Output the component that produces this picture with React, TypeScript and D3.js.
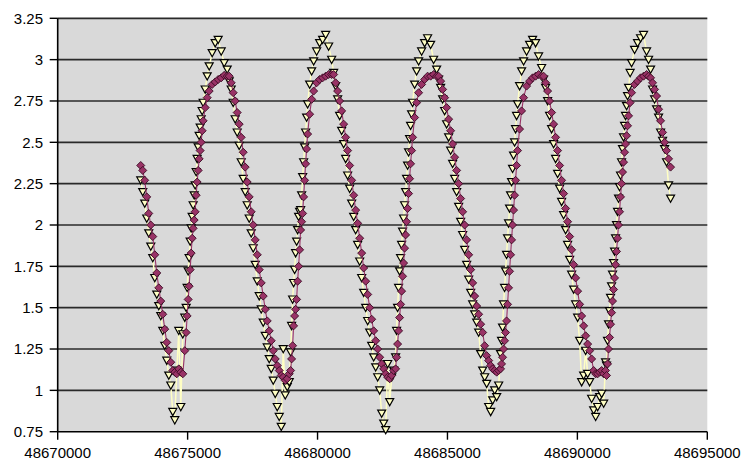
import React from 'react';
import * as d3 from 'd3';

// Observation times (shared by both series)
const times: number[] = [
  // partial descent before the first minimum
  48673196, 48673273, 48673350, 48673427, 48673504, 48673582, 48673659, 48673736, 48673813, 48673890, 48673967, 48674044,
  48674121, 48674198, 48674275, 48674352, 48674429, 48674506, 48674583, 48674660, 48674737, 48674814, 48674891,
  // cycle 0
  48674944, 48674982, 48675021, 48675059, 48675098, 48675136, 48675175, 48675213, 48675252, 48675290, 48675329, 48675367,
  48675406, 48675444, 48675483, 48675521, 48675560, 48675598, 48675676, 48675753, 48675830, 48675945, 48676061, 48676176,
  48676292, 48676407, 48676523,
  48676600, 48676677, 48676754, 48676831, 48676908, 48676985, 48677062, 48677139, 48677216, 48677293, 48677370, 48677447,
  48677524, 48677602, 48677679, 48677756, 48677833, 48677910, 48677987, 48678064, 48678141, 48678218, 48678295, 48678372,
  48678449, 48678526, 48678603, 48678680, 48678757, 48678834, 48678911,
  // cycle 1
  48678964, 48679002, 48679041, 48679079, 48679118, 48679156, 48679195, 48679233, 48679272, 48679310, 48679349, 48679387,
  48679426, 48679464, 48679503, 48679541, 48679580, 48679618, 48679696, 48679773, 48679850, 48679965, 48680081, 48680196,
  48680312, 48680427, 48680543,
  48680620, 48680697, 48680774, 48680851, 48680928, 48681005, 48681082, 48681159, 48681236, 48681313, 48681390, 48681467,
  48681544, 48681622, 48681699, 48681776, 48681853, 48681930, 48682007, 48682084, 48682161, 48682238, 48682315, 48682392,
  48682469, 48682546, 48682623, 48682700, 48682777, 48682854, 48682931,
  // cycle 2
  48683004, 48683042, 48683081, 48683119, 48683158, 48683196, 48683235, 48683273, 48683312, 48683350, 48683389, 48683427,
  48683466, 48683504, 48683543, 48683581, 48683620, 48683658, 48683736, 48683813, 48683890, 48684005, 48684121, 48684236,
  48684352, 48684467, 48684583,
  48684660, 48684737, 48684814, 48684891, 48684968, 48685045, 48685122, 48685199, 48685276, 48685353, 48685430, 48685507,
  48685584, 48685662, 48685739, 48685816, 48685893, 48685970, 48686047, 48686124, 48686201, 48686278, 48686355, 48686432,
  48686509, 48686586, 48686663, 48686740, 48686817, 48686894, 48686971,
  // cycle 3
  48687044, 48687082, 48687121, 48687159, 48687198, 48687236, 48687275, 48687313, 48687352, 48687390, 48687429, 48687467,
  48687506, 48687544, 48687583, 48687621, 48687660, 48687698, 48687776, 48687853, 48687930, 48688045, 48688161, 48688276,
  48688392, 48688507, 48688623,
  48688700, 48688777, 48688854, 48688931, 48689008, 48689085, 48689162, 48689239, 48689316, 48689393, 48689470, 48689547,
  48689624, 48689702, 48689779, 48689856, 48689933, 48690010, 48690087, 48690164, 48690241, 48690318, 48690395, 48690472,
  48690549, 48690626, 48690703, 48690780, 48690857, 48690934, 48691011,
  // cycle 4
  48691084, 48691122, 48691161, 48691199, 48691238, 48691276, 48691315, 48691353, 48691392, 48691430, 48691469, 48691507,
  48691546, 48691584, 48691623, 48691661, 48691700, 48691738, 48691777, 48691816, 48691854, 48691893, 48691931, 48691970,
  48692030, 48692085, 48692201, 48692316, 48692432, 48692547, 48692663,
  48692740, 48692817, 48692894, 48692971, 48693048, 48693125, 48693202, 48693279, 48693356, 48693433, 48693510, 48693587,
];

// Series drawn with purple diamonds
const purpleValues: number[] = [
  2.36, 2.33, 2.27, 2.17, 2.07, 2.00, 1.93, 1.82, 1.71, 1.62, 1.54, 1.46,
  1.37, 1.29, 1.24, 1.17, 1.12, 1.11, 1.10, 1.13, 1.11, 1.10, 1.24,
  // cycle 0
  1.35, 1.45, 1.55, 1.63, 1.73, 1.83, 1.92, 1.98, 2.03, 2.08, 2.18, 2.26,
  2.33, 2.40, 2.45, 2.50, 2.57, 2.63, 2.71, 2.77, 2.81, 2.85, 2.865, 2.88,
  2.89, 2.905, 2.90,
  2.90, 2.86, 2.80, 2.75, 2.68, 2.61, 2.53, 2.44, 2.35, 2.26, 2.17, 2.08,
  2.00, 1.91, 1.82, 1.73, 1.65, 1.57, 1.49, 1.42, 1.36, 1.30, 1.24, 1.19,
  1.15, 1.12, 1.09, 1.08, 1.06, 1.07, 1.10,
  // cycle 1
  1.12, 1.19, 1.27, 1.39, 1.45, 1.49, 1.55, 1.66, 1.75, 1.85, 1.97, 2.02,
  2.07, 2.17, 2.27, 2.37, 2.46, 2.55, 2.67, 2.76, 2.81, 2.86, 2.88, 2.89,
  2.90, 2.91, 2.91,
  2.91, 2.86, 2.81, 2.75, 2.69, 2.61, 2.53, 2.45, 2.36, 2.27, 2.18, 2.09,
  2.01, 1.92, 1.83, 1.74, 1.66, 1.58, 1.50, 1.43, 1.36, 1.30, 1.25, 1.20,
  1.16, 1.13, 1.10, 1.08, 1.07, 1.09, 1.12,
  // cycle 2
  1.13, 1.20, 1.28, 1.36, 1.44, 1.52, 1.60, 1.69, 1.77, 1.86, 1.94, 2.02,
  2.10, 2.19, 2.28, 2.37, 2.45, 2.53, 2.65, 2.74, 2.80, 2.85, 2.88, 2.90,
  2.90, 2.91, 2.90,
  2.90, 2.87, 2.82, 2.77, 2.71, 2.64, 2.57, 2.49, 2.41, 2.33, 2.25, 2.16,
  2.08, 2.00, 1.91, 1.82, 1.73, 1.65, 1.57, 1.51, 1.46, 1.40, 1.35, 1.27,
  1.21, 1.18, 1.15, 1.13, 1.12, 1.11, 1.12,
  // cycle 3
  1.13, 1.16, 1.20, 1.25, 1.30, 1.35, 1.42, 1.52, 1.62, 1.72, 1.82, 1.91,
  2.00, 2.09, 2.18, 2.27, 2.36, 2.45, 2.58, 2.69, 2.77, 2.84, 2.87, 2.89,
  2.90, 2.91, 2.90,
  2.90, 2.86, 2.81, 2.75, 2.68, 2.61, 2.53, 2.45, 2.36, 2.27, 2.19, 2.10,
  2.02, 1.93, 1.85, 1.76, 1.68, 1.60, 1.52, 1.45, 1.39, 1.33, 1.28, 1.24,
  1.19, 1.12, 1.10, 1.10, 1.11, 1.12, 1.10,
  // cycle 4
  1.12, 1.09, 1.16, 1.25, 1.32, 1.40, 1.47, 1.54, 1.61, 1.68, 1.76, 1.84,
  1.92, 2.00, 2.08, 2.17, 2.25, 2.32, 2.38, 2.44, 2.49, 2.54, 2.60, 2.66,
  2.74, 2.80, 2.85, 2.87, 2.89, 2.90, 2.91,
  2.90, 2.89, 2.86, 2.82, 2.78, 2.70, 2.63, 2.56, 2.50, 2.45, 2.40, 2.35,
];

// Series drawn with pale yellow down-triangles
const yellowValues: number[] = [
  2.27, 2.20, 2.13, 2.04, 1.95, 1.87, 1.80, 1.68, 1.58, 1.51, 1.45, 1.36,
  1.27, 1.18, 1.09, 1.03, 0.87, 0.82, 1.12, 1.36, 0.90, 1.34, 1.44,
  // cycle 0
  1.50, 1.62, 1.72, 1.80, 1.90, 1.98, 2.05, 2.12, 2.18, 2.24, 2.32, 2.40,
  2.47, 2.54, 2.59, 2.64, 2.69, 2.74, 2.82, 2.90, 2.96, 3.04, 3.10, 3.12,
  3.05, 2.98, 2.94,
  2.87, 2.82, 2.74, 2.64, 2.56, 2.48, 2.38, 2.28, 2.20, 2.12, 2.04, 1.95,
  1.86, 1.76, 1.66, 1.57, 1.49, 1.41, 1.33, 1.26, 1.19, 1.13, 1.06, 0.98,
  0.90, 0.84, 0.78, 1.25, 0.97, 1.02, 1.05,
  // cycle 1
  1.23, 1.39, 1.55, 1.65, 1.73, 1.83, 1.90, 1.97, 2.05, 2.08, 2.09, 2.18,
  2.29, 2.38, 2.47, 2.56, 2.65, 2.73, 2.85, 2.93, 2.99, 3.05, 3.10, 3.12,
  3.15, 3.08, 3.00,
  2.92, 2.84, 2.76, 2.66, 2.57, 2.49, 2.40, 2.30, 2.22, 2.13, 2.05, 1.97,
  1.88, 1.78, 1.68, 1.59, 1.50, 1.42, 1.35, 1.27, 1.20, 1.14, 1.08, 1.00,
  0.86, 0.80, 0.76, 1.16, 0.93, 1.08, 1.12,
  // cycle 2
  1.20, 1.36, 1.50, 1.62, 1.72, 1.80, 1.88, 1.96, 2.04, 2.12, 2.20, 2.28,
  2.36, 2.44, 2.52, 2.60, 2.67, 2.74, 2.85, 2.93, 2.99, 3.05, 3.10, 3.13,
  3.09, 3.00, 2.94,
  2.88, 2.83, 2.76, 2.69, 2.61, 2.53, 2.45, 2.37, 2.28, 2.20, 2.11, 2.02,
  1.94, 1.85, 1.76, 1.67, 1.59, 1.52, 1.46, 1.41, 1.35, 1.22, 1.12, 1.08,
  1.04, 0.90, 0.87, 0.94, 1.00, 0.96, 1.03,
  // cycle 3
  1.22, 1.30, 1.38, 1.52, 1.62, 1.72, 1.82, 1.92, 2.01, 2.10, 2.18, 2.26,
  2.34, 2.42, 2.50, 2.58, 2.66, 2.73, 2.84, 2.93, 2.99, 3.05, 3.09, 3.12,
  3.10, 3.02, 2.95,
  2.88, 2.83, 2.75, 2.66, 2.58, 2.49, 2.40, 2.31, 2.22, 2.14, 2.06, 1.97,
  1.88, 1.79, 1.70, 1.61, 1.52, 1.44, 1.30, 1.05, 1.09, 1.24, 1.10, 1.05,
  0.95, 0.88, 0.84, 0.90, 0.96, 0.98, 0.92,
  // cycle 4
  1.17, 1.15, 1.30, 1.40, 1.48, 1.56, 1.63, 1.70, 1.77, 1.84, 1.92, 2.00,
  2.08, 2.16, 2.23, 2.30, 2.38, 2.46, 2.53, 2.60, 2.66, 2.72, 2.78, 2.83,
  2.92, 2.98, 3.06, 3.10, 3.13, 3.15, 3.05,
  3.00, 2.94, 2.82, 2.76, 2.70, 2.65, 2.56, 2.51, 2.46, 2.38, 2.24, 2.16,
];

const xTickValues = [48670000, 48675000, 48680000, 48685000, 48690000, 48695000];
const yTickValues = [0.75, 1, 1.25, 1.5, 1.75, 2, 2.25, 2.5, 2.75, 3, 3.25];

export default function App() {
  const W = 745;
  const H = 463;
  const left = 57.7;
  const right = 707.3;
  const top = 18.3;
  const bottom = 431.7;

  const x = d3.scaleLinear().domain([48670000, 48695000]).range([left, right]);
  const y = d3.scaleLinear().domain([0.75, 3.25]).range([bottom, top]);

  const makeLine = (vals: number[]) =>
    d3
      .line<number>()
      .x((_, i) => x(times[i]))
      .y((d) => y(d))(vals) || '';

  const tri = 'M-4,-3.4 L4,-3.4 L0,3.8 Z';
  const dia = 'M0,-4 L4,0 L0,4 L-4,0 Z';
  const font = '"Liberation Sans", Arial, sans-serif';

  return (
    <svg
      width={W}
      height={H}
      style={{ position: 'absolute', left: 0, top: 0, background: '#fff' }}
      fontFamily={font}
    >
      <rect x={left} y={top} width={right - left} height={bottom - top} fill="#d9d9d9" />
      {yTickValues.map((v) => (
        <g key={'gy' + v}>
          {v !== 0.75 && (
            <line x1={left} x2={right} y1={y(v)} y2={y(v)} stroke="#2a2a2a" strokeWidth={1.7} />
          )}
          <line x1={left - 8} x2={left} y1={y(v)} y2={y(v)} stroke="#000" strokeWidth={1.4} />
          <text x={43} y={y(v)} dy="0.36em" textAnchor="end" fontSize={15} fill="#000">
            {String(v)}
          </text>
        </g>
      ))}
      {xTickValues.map((v) => (
        <g key={'gx' + v}>
          <line x1={x(v)} x2={x(v)} y1={bottom} y2={bottom + 8} stroke="#000" strokeWidth={1.4} />
          <text x={x(v)} y={458} textAnchor="middle" fontSize={15} fill="#000">
            {String(v)}
          </text>
        </g>
      ))}
      <line x1={left} x2={left} y1={top} y2={bottom} stroke="#000" strokeWidth={1.6} />
      <line x1={left} x2={right} y1={bottom} y2={bottom} stroke="#000" strokeWidth={1.6} />

      {/* yellow series */}
      <path d={makeLine(yellowValues)} fill="none" stroke="#ffffc4" strokeWidth={1.5} />
      {yellowValues.map((v, i) => (
        <path
          key={'y' + i}
          d={tri}
          transform={`translate(${x(times[i])},${y(v)})`}
          fill="#ffffc4"
          stroke="#000"
          strokeWidth={1.2}
        />
      ))}

      {/* purple series */}
      <path d={makeLine(purpleValues)} fill="none" stroke="#993366" strokeWidth={1.1} />
      {purpleValues.map((v, i) => (
        <path
          key={'p' + i}
          d={dia}
          transform={`translate(${x(times[i])},${y(v)})`}
          fill="#993366"
          stroke="#3a0a22"
          strokeWidth={0.9}
        />
      ))}
    </svg>
  );
}
